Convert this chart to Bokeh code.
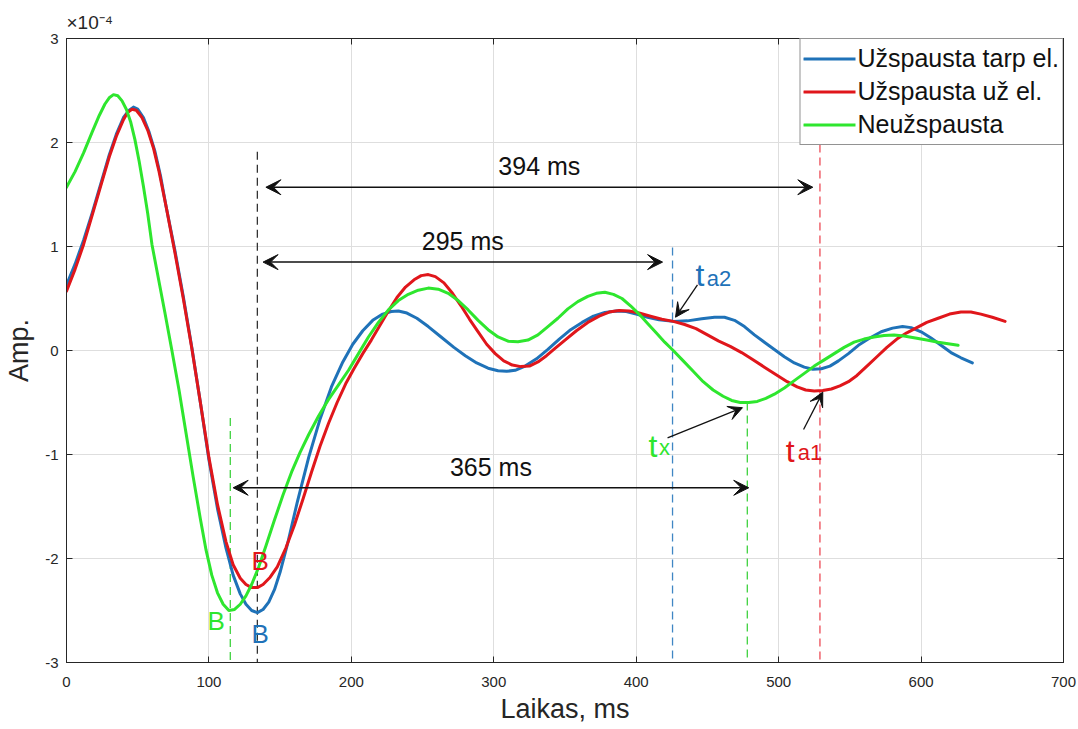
from bokeh.plotting import figure
from bokeh.models import (Label, Arrow, VeeHead, LinearAxis, FixedTicker,
                          Range1d, Legend, LegendItem)
from bokeh.embed import file_html
from bokeh.resources import INLINE

# Amplitude traces (values in units of 1e-4)
blue_t = [0, 6, 12, 18, 24, 30, 35, 40, 44, 47, 50, 54, 58, 62, 66, 70, 76,
          82, 88, 94, 100, 106, 112, 117, 122, 126, 130, 134, 138, 142, 146,
          150, 155, 162, 170, 178, 186, 194, 201, 208, 215, 222, 228, 233, 239,
          246, 254, 263, 272, 280, 288, 296, 303, 309, 315, 322, 330, 338, 346,
          354, 362, 370, 378, 386, 393, 400, 408, 416, 426, 436, 446, 455, 462,
          469, 476, 483, 490, 497, 504, 511, 518, 524, 530, 536, 542, 549, 556,
          564, 572, 580, 587, 593, 600, 607, 614, 621, 628, 636]
blue_amp = [0.63, 0.83, 1.06, 1.32, 1.6, 1.88, 2.08, 2.24, 2.31, 2.34, 2.32,
            2.24, 2.1, 1.92, 1.68, 1.38, 0.97, 0.52, 0.03, -0.5, -1.05, -1.52,
            -1.9, -2.16, -2.34, -2.44, -2.5, -2.52, -2.49, -2.42, -2.3, -2.13,
            -1.87, -1.46, -1.03, -0.66, -0.35, -0.11, 0.06, 0.19, 0.29, 0.35,
            0.375, 0.38, 0.36, 0.31, 0.23, 0.13, 0.03, -0.05, -0.12, -0.17,
            -0.195, -0.2, -0.19, -0.15, -0.08, 0.01, 0.11, 0.2, 0.27, 0.33,
            0.365, 0.38, 0.375, 0.35, 0.32, 0.295, 0.28, 0.285, 0.305, 0.32,
            0.32, 0.29, 0.23, 0.15, 0.08, 0.01, -0.06, -0.12, -0.16, -0.18,
            -0.175, -0.15, -0.1, -0.03, 0.05, 0.12, 0.18, 0.215, 0.23, 0.22,
            0.18, 0.12, 0.05, -0.02, -0.07, -0.12]

red_t = [0, 6, 12, 18, 24, 30, 35, 40, 43, 46, 49, 53, 57, 61, 65, 70, 76, 82,
         88, 94, 100, 106, 112, 117, 122, 126, 130, 134, 138, 143, 148, 154,
         160, 166, 172, 178, 184, 190, 196, 202, 208, 214, 220, 226, 232, 238,
         244, 249, 254, 259, 265, 271, 277, 283, 289, 295, 301, 307, 313, 319,
         325, 331, 337, 343, 350, 358, 366, 374, 381, 388, 395, 402, 410, 418,
         426, 434, 442, 450, 458, 466, 474, 482, 490, 498, 506, 513, 519, 525,
         531, 537, 543, 549, 555, 562, 569, 576, 583, 590, 597, 604, 612, 620,
         628, 635, 642, 650, 659]
red_amp = [0.57, 0.78, 1.02, 1.3, 1.58, 1.86, 2.06, 2.22, 2.29, 2.32, 2.31,
           2.24, 2.12, 1.95, 1.72, 1.38, 0.95, 0.5, 0.02, -0.5, -1.03, -1.48,
           -1.84, -2.06, -2.19, -2.25, -2.28, -2.28, -2.25, -2.18, -2.08, -1.9,
           -1.68, -1.43, -1.17, -0.92, -0.7, -0.5, -0.32, -0.17, -0.03, 0.1,
           0.24, 0.38, 0.51, 0.61, 0.68, 0.72, 0.73, 0.71, 0.65, 0.55, 0.43,
           0.3, 0.18, 0.06, -0.03, -0.1, -0.14, -0.155, -0.15, -0.11, -0.05,
           0.02, 0.1, 0.19, 0.27, 0.33, 0.37, 0.385, 0.38, 0.36, 0.33, 0.3,
           0.28, 0.25, 0.21, 0.15, 0.09, 0.04, -0.02, -0.09, -0.16, -0.23,
           -0.3, -0.35, -0.38, -0.39, -0.385, -0.37, -0.34, -0.3, -0.24, -0.15,
           -0.06, 0.03, 0.11, 0.17, 0.22, 0.27, 0.31, 0.35, 0.37, 0.37, 0.35,
           0.32, 0.28]

green_t = [0, 6, 12, 18, 23, 27, 30, 33, 36, 39, 42, 45, 48, 51, 54, 57, 60,
           64, 69, 74, 79, 84, 89, 94, 98, 102, 106, 110, 114, 118, 122, 126,
           130, 135, 140, 146, 152, 158, 164, 170, 177, 184, 191, 198, 205, 212,
           219, 226, 233, 240, 247, 254, 261, 268, 275, 282, 289, 296, 303, 310,
           317, 324, 331, 338, 345, 352, 359, 366, 372, 378, 384, 390, 396, 402,
           408, 414, 420, 426, 433, 440, 447, 454, 461, 467, 473, 479, 485, 491,
           497, 504, 511, 518, 525, 532, 539, 546, 553, 560, 567, 574, 581, 588,
           596, 604, 612, 619, 626]
green_amp = [1.57, 1.72, 1.9, 2.1, 2.26, 2.37, 2.43, 2.46, 2.45, 2.4, 2.32,
             2.2, 2.03, 1.82, 1.58, 1.32, 1.02, 0.73, 0.37, 0.0, -0.38, -0.8,
             -1.22, -1.62, -1.92, -2.16, -2.33, -2.44, -2.5, -2.49, -2.44,
             -2.36, -2.25, -2.08, -1.88, -1.63, -1.39, -1.17, -0.98, -0.81,
             -0.63, -0.47, -0.33, -0.19, -0.03, 0.13, 0.27, 0.39, 0.48, 0.54,
             0.58, 0.6, 0.59, 0.55, 0.48, 0.39, 0.29, 0.2, 0.13, 0.09, 0.085,
             0.1, 0.15, 0.23, 0.31, 0.4, 0.47, 0.52, 0.55, 0.56, 0.54, 0.5,
             0.43, 0.35, 0.26, 0.17, 0.08, 0.0, -0.1, -0.2, -0.3, -0.38, -0.44,
             -0.48, -0.5, -0.5, -0.49, -0.46, -0.42, -0.36, -0.29, -0.22, -0.15,
             -0.09, -0.03, 0.03, 0.08, 0.11, 0.13, 0.145, 0.15, 0.14, 0.12, 0.1,
             0.08, 0.065, 0.05]

series_names = ["Užspausta tarp el.", "Užspausta už el.", "Neužspausta"]
series_colors = ["#1f72b8", "#e0161b", "#2ee62e"]

# Marker lines: time, top amplitude, colour
marker_t = [134, 425.5, 478, 529, 115]
marker_top = [1.91, 0.99, -0.5, 1.98, -0.65]
marker_colors = ["#333333", "#3f86c4", "#3fd23f", "#ec4a55", "#3fd23f"]

# Interval arrows: start, end, level, caption
span_start = [140, 138, 117]
span_end = [524, 418.5, 479]
span_level = [1.57, 0.85, -1.32]
span_text = ["394 ms", "295 ms", "365 ms"]

x_ticks = [0, 100, 200, 300, 400, 500, 600, 700]
y_ticks = [-3, -2, -1, 0, 1, 2, 3]

FONT = "Liberation Sans"
AX = "#262626"

p = figure(width=1078, height=729, output_backend="svg", toolbar_location=None,
           x_range=Range1d(0, 700), y_range=Range1d(-3, 3),
           min_border_left=66, min_border_right=15, min_border_top=38,
           min_border_bottom=67, background_fill_color="white",
           title="×10⁻⁴")

# exponent of the amplitude axis
p.title.align = "left"
p.title.text_font = FONT
p.title.text_font_size = "19px"
p.title.text_font_style = "normal"
p.title.text_color = AX
p.title.standoff = 12

p.outline_line_color = AX
p.outline_line_width = 1

for ax in (p.xaxis[0], p.yaxis[0]):
    ax.major_tick_in = 6
    ax.major_tick_out = 0
    ax.minor_tick_in = 0
    ax.minor_tick_out = 0
    ax.axis_line_color = AX
    ax.major_tick_line_color = AX
    ax.major_label_text_font = FONT
    ax.major_label_text_font_size = "15px"
    ax.major_label_text_color = AX
    ax.axis_label_text_font = FONT
    ax.axis_label_text_font_size = "27px"
    ax.axis_label_text_font_style = "normal"
    ax.axis_label_text_color = AX

p.xaxis[0].ticker = FixedTicker(ticks=x_ticks)
p.yaxis[0].ticker = FixedTicker(ticks=y_ticks)
p.xaxis[0].major_label_overrides = {t: str(t) for t in x_ticks}
p.yaxis[0].major_label_overrides = {t: str(t) for t in y_ticks}
p.xaxis[0].axis_label = "Laikas, ms"
p.yaxis[0].axis_label = "Amp."
p.xaxis[0].major_label_standoff = 14
p.yaxis[0].major_label_standoff = 8
p.xaxis[0].axis_label_standoff = 4
p.yaxis[0].axis_label_standoff = 8

# tick marks on the top and right edges of the box (no labels)
top_ax = LinearAxis(ticker=FixedTicker(ticks=x_ticks))
right_ax = LinearAxis(ticker=FixedTicker(ticks=y_ticks))
for ax in (top_ax, right_ax):
    ax.major_tick_in = 6
    ax.major_tick_out = 0
    ax.minor_tick_in = 0
    ax.minor_tick_out = 0
    ax.major_label_text_color = None
    ax.major_label_text_font_size = "1px"
    ax.major_label_standoff = 0
    ax.axis_line_color = AX
    ax.major_tick_line_color = AX
p.add_layout(top_ax, "above")
p.add_layout(right_ax, "right")

p.xgrid.ticker = FixedTicker(ticks=x_ticks)
p.ygrid.ticker = FixedTicker(ticks=y_ticks)
p.grid.grid_line_color = "#dedede"
p.grid.grid_line_width = 1

# vertical marker lines
p.segment(x0=marker_t, y0=marker_top, x1=marker_t, y1=[-3] * len(marker_t),
          line_color=marker_colors, line_width=1.3, line_dash="8 5")

# traces
renderers = []
for t, a, c in zip([blue_t, red_t, green_t], [blue_amp, red_amp, green_amp],
                   series_colors):
    renderers.append(p.line(t, a, line_color=c, line_width=3,
                            line_join="round", line_cap="round"))

# interval arrows and captions
for s, e, lv, txt in zip(span_start, span_end, span_level, span_text):
    p.add_layout(Arrow(x_start=s, y_start=lv, x_end=e, y_end=lv,
                       line_color="#111111", line_width=1.5,
                       start=VeeHead(size=15, fill_color="#111111",
                                     line_color="#111111"),
                       end=VeeHead(size=15, fill_color="#111111",
                                   line_color="#111111")))
    p.add_layout(Label(x=(s + e) / 2, y=lv, y_offset=7, text=txt,
                       text_align="center", text_baseline="bottom",
                       text_font=FONT, text_font_size="25px",
                       text_color="#111111"))

# pointer arrows for the time markers
ptr_from_t = [443, 422, 517.5]
ptr_from_a = [0.63, -0.84, -0.76]
ptr_to_t = [427.6, 474.6, 531]
ptr_to_a = [0.32, -0.55, -0.40]
for x0, y0, x1, y1 in zip(ptr_from_t, ptr_from_a, ptr_to_t, ptr_to_a):
    p.add_layout(Arrow(x_start=x0, y_start=y0, x_end=x1, y_end=y1,
                       line_color="#111111", line_width=1.3,
                       end=VeeHead(size=14, fill_color="#111111",
                                   line_color="#111111")))

# marker names with subscripts
name_t = [441.6, 408.6, 505]
name_a = [0.73, -0.92, -0.97]
sub_t = [449.5, 416, 513.5]
sub_a = [0.69, -0.93, -0.98]
subs = ["a2", "x", "a1"]
name_colors = ["#1f72b8", "#2ee62e", "#e0161b"]
for x0, y0, x1, y1, s, c in zip(name_t, name_a, sub_t, sub_a, subs,
                                name_colors):
    p.add_layout(Label(x=x0, y=y0, text="t", text_font=FONT,
                       text_font_size="32px", text_color=c,
                       text_baseline="alphabetic"))
    p.add_layout(Label(x=x1, y=y1, text=s, text_font=FONT,
                       text_font_size="22px", text_color=c,
                       text_baseline="alphabetic"))

# B (arrival) marks
b_t = [136, 136, 105]
b_a = [-2.02, -2.73, -2.6]
b_colors = ["#e0161b", "#1f72b8", "#2ee62e"]
for x0, y0, c in zip(b_t, b_a, b_colors):
    p.add_layout(Label(x=x0, y=y0, text="B", text_font=FONT,
                       text_font_size="26px", text_color=c,
                       text_align="center", text_baseline="middle"))

legend = Legend(items=[LegendItem(label=n, renderers=[r])
                       for n, r in zip(series_names, renderers)],
                location="top_right")
legend.margin = 0
legend.padding = 3
legend.spacing = 0
legend.label_standoff = 2
legend.glyph_width = 52
legend.glyph_height = 33
legend.label_height = 33
legend.label_text_font = FONT
legend.label_text_font_size = "25px"
legend.label_text_color = "#111111"
legend.border_line_color = AX
legend.border_line_width = 1
legend.background_fill_color = "white"
legend.background_fill_alpha = 1
p.add_layout(legend)

open("out.html", "w").write(file_html(p, INLINE))
